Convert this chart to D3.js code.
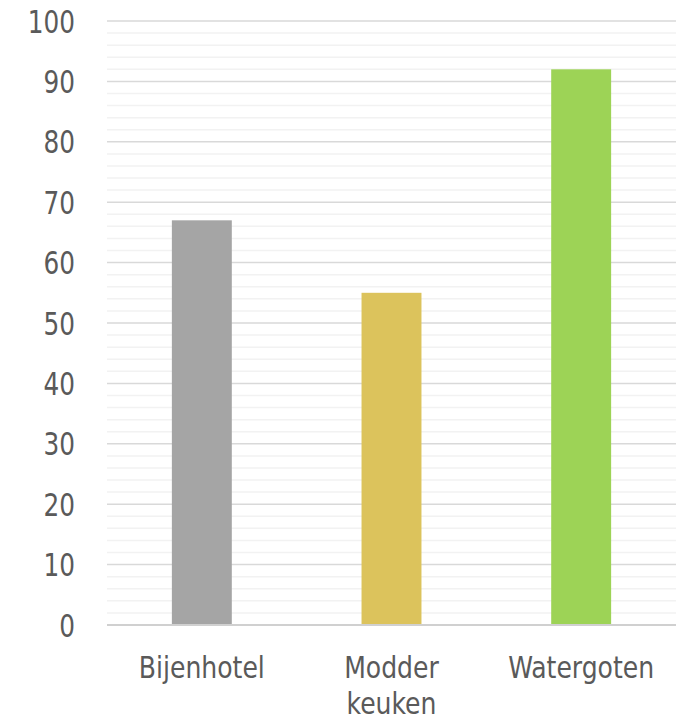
<!DOCTYPE html>
<html><head><meta charset="utf-8">
<script src="https://cdn.jsdelivr.net/npm/d3@7"></script>
<style>
body{margin:0;background:#fff;}
text{font-family:"DejaVu Sans Condensed","Liberation Sans Narrow",sans-serif;fill:#5a5a5a;}
</style></head>
<body><svg id="c" width="686" height="722"></svg>
<script>
const categories = [["Bijenhotel"], ["Modder","keuken"], ["Watergoten"]];
const values = [67, 55, 92];
const colors = ["#a5a5a5", "#dcc35c", "#9dd356"];
const yTicks = [0,10,20,30,40,50,60,70,80,90,100];
const minorTicks = d3.range(0, 101, 2);

(function(){
const svg = d3.select("#c");
const mLeft = 107, mRight = 676, mTop = 21, mBottom = 625;
const sx = 0.86;
const x = d3.scaleBand().domain(categories.map(c=>c.join(" "))).range([mLeft,mRight]).paddingInner(0.684).paddingOuter(0.342);
const y = d3.scaleLinear().domain([0,100]).range([mBottom, mTop]);

svg.append("g").selectAll("line").data(minorTicks.filter(t=>t%10!==0)).join("line")
  .attr("x1",mLeft).attr("x2",mRight).attr("y1",d=>y(d)).attr("y2",d=>y(d))
  .attr("stroke","#f2f2f2").attr("stroke-width",1.5);
svg.append("g").selectAll("line").data(yTicks.filter(t=>t!==0)).join("line")
  .attr("x1",mLeft).attr("x2",mRight).attr("y1",d=>y(d)).attr("y2",d=>y(d))
  .attr("stroke","#d9d9d9").attr("stroke-width",1.5);

svg.append("g").selectAll("rect").data(values).join("rect")
  .attr("x",(d,i)=>x(categories[i].join(" "))).attr("width",x.bandwidth())
  .attr("y",d=>y(d)).attr("height",d=>y(0)-y(d)).attr("fill",(d,i)=>colors[i]);

svg.append("line").attr("x1",mLeft).attr("x2",mRight).attr("y1",y(0)).attr("y2",y(0))
  .attr("stroke","#d0d0d0").attr("stroke-width",2);

svg.append("g").selectAll("text").data(yTicks).join("text")
  .attr("transform",d=>`translate(75,${y(d)}) scale(${sx},1)`)
  .attr("dy","0.36em").attr("text-anchor","end")
  .attr("font-size",32).text(d=>d);

const xl = svg.append("g").selectAll("text").data(categories).join("text")
  .attr("transform",d=>`translate(${x(d.join(" "))+x.bandwidth()/2},678) scale(${sx+0.04},1)`)
  .attr("text-anchor","middle").attr("font-size",31);
xl.selectAll("tspan").data(d=>d).join("tspan")
  .attr("x",0).attr("dy",(d,i)=>i?36:0).text(d=>d);
})();
</script></body></html>
